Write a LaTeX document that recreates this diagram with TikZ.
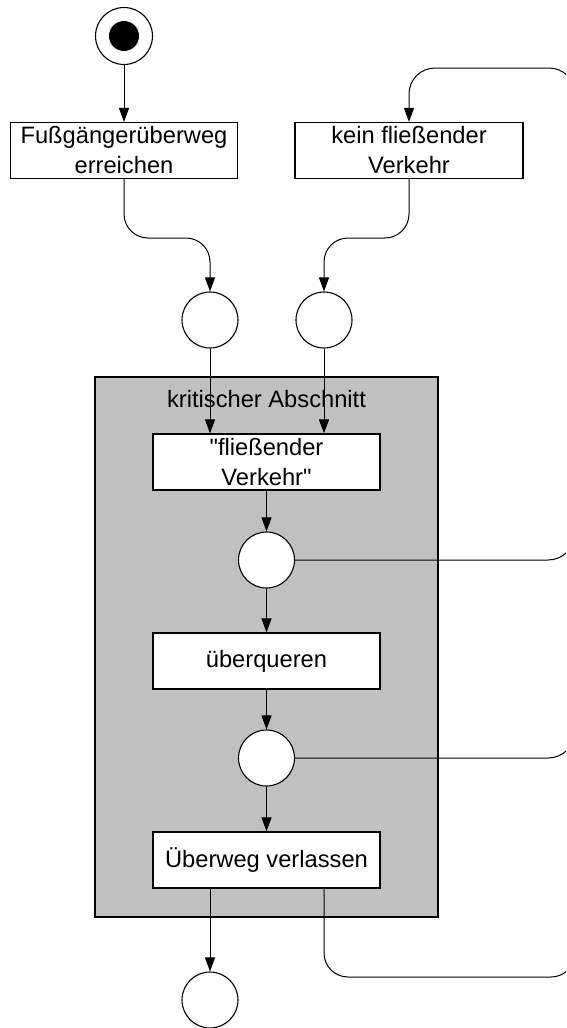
\documentclass[tikz,border=0pt]{standalone}
\usepackage{fontspec}
\setmainfont{Liberation Sans}[Ligatures=TeXOff]
\usetikzlibrary{arrows.meta}
\definecolor{critgray}{RGB}{192,192,192}
\begin{document}
\begin{tikzpicture}[x=1pt,y=-1pt,
  wire/.style={line width=1pt},
  flow/.style={wire,-{Triangle[length=14pt,width=10pt]}},
  label/.style={font=\fontsize{23.7}{30}\selectfont},
  activity/.style={draw,line width=1.2pt,fill=white,minimum width=227pt,
    minimum height=56pt,inner sep=0pt,align=center,label},
  place/.style={draw,line width=1.1pt,fill=white,circle,minimum size=56pt,inner sep=0pt},
]
\useasboundingbox (0,0) rectangle (566,1028);
\clip (0,0) rectangle (566,1028);

% critical section frame
\node[draw,line width=1.3pt,fill=critgray,minimum width=343pt,minimum height=540pt,
  inner sep=0pt] (crit) at (266.5,647) {};
\node[label] (critlabel) at (266.5,399) {kritischer Abschnitt};

% initial state
\node[circle,draw,line width=1.1pt,fill=white,minimum size=57pt,inner sep=0pt] (start) at (124,36) {};
\node[circle,fill=black,minimum size=30pt,inner sep=0pt] (startdot) at (start) {};

% activities
\node[activity] (V1) at (124,150.5) {Fußgängerüberweg\\erreichen};
\node[activity,minimum width=228pt] (V2) at (409,150.5) {kein fließender\\Verkehr};
\node[activity] (V3) at (266.5,462) {"fließender\\Verkehr"};
\node[activity] (V4) at (266.5,661) {überqueren};
\node[activity] (V5) at (266.5,860) {Überweg verlassen};

% places
\node[place] (P1) at (210,320) {};
\node[place] (P2) at (324,320) {};
\node[place] (P3) at (266.5,560) {};
\node[place] (P4) at (266.5,758) {};
\node[place] (P5) at (210,1000) {};

% helper coordinates for the bends
\coordinate (mid) at (0,238);
\coordinate (loopY) at (0,68);
\coordinate (railTop) at (575,400);
\coordinate (railBot) at (575,977);

% connectors
\draw[flow] (start) -- (V1);
\draw[flow,rounded corners=24pt] (V1.south) -- (V1.south |- mid) -- (P1.north |- mid) -- (P1.north);
\draw[flow,rounded corners=24pt] (V2.south) -- (V2.south |- mid) -- (P2.north |- mid) -- (P2.north);
\draw[flow] (P1.south) -- (V3.north -| P1);
\draw[flow] (P2.south) -- (V3.north -| P2);
\draw[flow] (V3) -- (P3);
\draw[flow] (P3) -- (V4);
\draw[flow] (V4) -- (P4);
\draw[flow] (P4) -- (V5);
\draw[flow] (V5.south -| P5) -- (P5.north);

% return paths to "kein fließender Verkehr"
\draw[wire,rounded corners=27pt] (P3.east) -- (P3.east -| railTop) -- (railTop);
\draw[wire,rounded corners=27pt] (P4.east) -- (P4.east -| railTop) -- (railTop);
\draw[wire,rounded corners=24pt] (V5.south -| P2) |- (railBot) -- (railTop);
\draw[flow,rounded corners=26pt] (railTop) -- (railTop |- loopY) -| (V2.north);
\end{tikzpicture}
\end{document}
